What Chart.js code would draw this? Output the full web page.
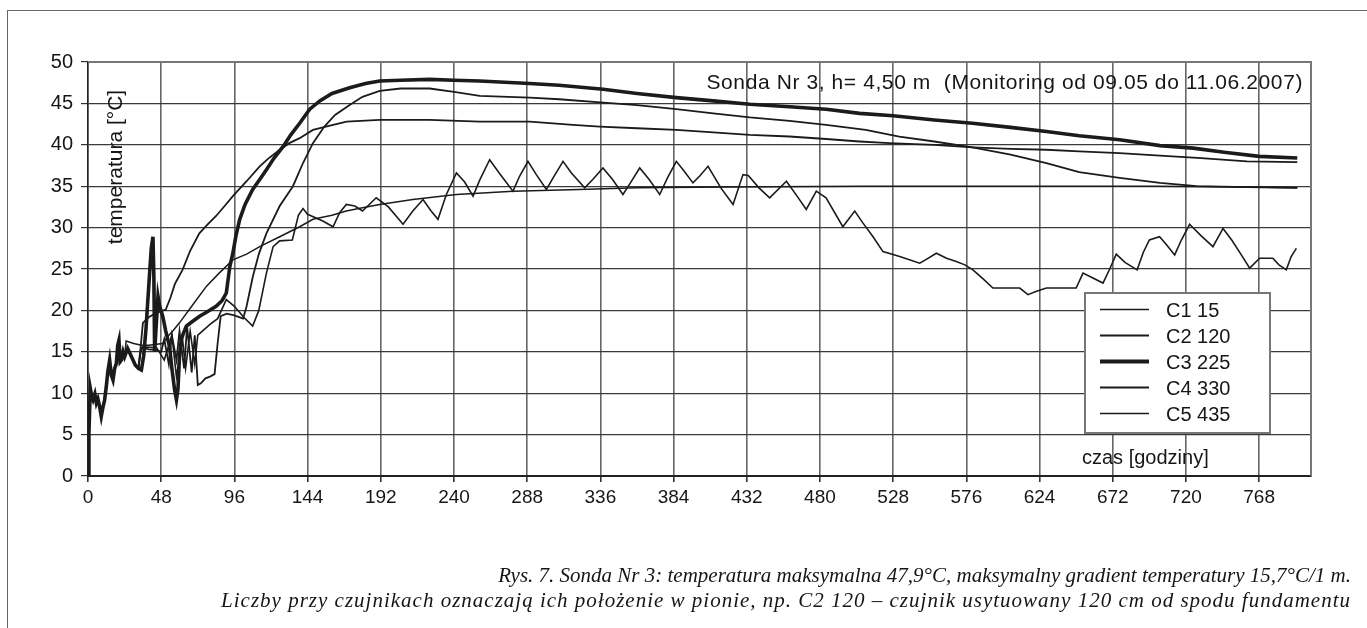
<!DOCTYPE html>
<html lang="pl">
<head>
<meta charset="utf-8">
<title>Sonda Nr 3</title>
<script src="https://cdn.jsdelivr.net/npm/chart.js@4.4.1/dist/chart.umd.min.js"></script>
<style>
  html, body { margin: 0; padding: 0; background: #fff; }
  #wrap { position: relative; width: 1367px; height: 628px; overflow: hidden; }
  #frame { position: absolute; left: 7px; top: 10px; width: 1380px; height: 640px; border-top: 1.5px solid #666; border-left: 1.5px solid #666; }
  #chart { position: absolute; left: 0; top: 0; }
  .caption { position: absolute; right: 16px; top: 563px; text-align: right; color: #151515;
             font: italic 21px/25px "Liberation Serif", "DejaVu Serif", serif; white-space: nowrap; }
  .caption .wide { letter-spacing: 1px; }
</style>
</head>
<body>
<div id="wrap">
  <div id="frame"></div>
  <canvas id="chart" width="1367" height="628"></canvas>
  <div class="caption">
    <div>Rys. 7. Sonda Nr 3: temperatura maksymalna 47,9°C, maksymalny gradient temperatury 15,7°C/1 m.</div>
    <div class="wide">Liczby przy czujnikach oznaczają ich położenie w pionie, np. C2 120 – czujnik usytuowany 120 cm od spodu fundamentu</div>
  </div>
</div>
<script>
// --- DATA ---
const xTicks = [0, 48, 96, 144, 192, 240, 288, 336, 384, 432, 480, 528, 576, 624, 672, 720, 768];
const yTicks = [0, 5, 10, 15, 20, 25, 30, 35, 40, 45, 50];
const seriesNames = ['C1 15', 'C2 120', 'C3 225', 'C4 330', 'C5 435'];
const titleText = 'Sonda Nr 3, h= 4,50 m  (Monitoring od 09.05 do 11.06.2007)';

// first day, all sensors read the same
const earlyHours = [0, 0.6, 1.5, 2.5, 3.3, 4.5, 5.5, 6.5, 7.6, 8.7, 9.8, 10.9, 12, 13, 14.2, 15.3, 16.4, 17.5, 18.6, 19.5, 20.3, 21.1, 21.9, 23, 24];
const earlyTemps = [0, 5.2, 10.6, 9.6, 9.2, 9.9, 8.8, 9.3, 8.4, 7.2, 8.3, 9.2, 10.8, 12.6, 14.0, 12.2, 11.6, 13.0, 13.6, 15.8, 16.4, 13.8, 14.0, 15.0, 14.4];

const c1Hours = [25, 30, 35, 40, 45, 49, 52, 56, 60, 68, 77.6, 86, 95, 104, 112.6, 125.7, 138.8, 147.5, 160, 169.4, 180, 191.3, 213, 241.6, 278.7, 322, 360, 420, 506, 600, 700, 760, 793];
const c1Temps = [16.3, 16.0, 15.8, 15.8, 15.9, 16.0, 16.8, 17.6, 18.5, 20.5, 22.9, 24.5, 26.1, 26.8, 27.7, 28.9, 30.1, 31.0, 31.5, 32.0, 32.4, 32.8, 33.4, 34.0, 34.4, 34.6, 34.8, 34.9, 35.0, 35.0, 35.0, 34.9, 34.8];

const c2Hours = [26, 28, 29.5, 31, 33, 35, 40, 45, 48, 50, 53, 55, 58, 60, 63, 65, 68, 70, 72, 74, 77, 80, 83, 85, 87, 91, 96, 101.7, 104, 108, 112, 117, 125.7, 134.4, 141, 147.5, 155, 162, 171.6, 180, 191.3, 205, 224, 240, 256.9, 289.6, 309, 338, 360, 385.8, 410, 434, 460, 484, 510, 532, 555, 580, 605, 628.5, 650, 676.5, 703, 727, 760, 793];
const c2Temps = [15.4, 14.6, 14.0, 13.4, 13.0, 15.5, 15.3, 15.2, 15.0, 16.5, 13.5, 17.0, 14.0, 17.5, 13.0, 18.0, 12.5, 17.0, 11.0, 11.2, 11.8, 12.0, 12.3, 16.0, 19.3, 19.6, 19.4, 19.0, 20.5, 24.0, 26.8, 29.3, 32.6, 35.0, 37.8, 40.2, 42.2, 43.6, 44.8, 45.8, 46.5, 46.8, 46.8, 46.4, 45.9, 45.7, 45.5, 45.1, 44.8, 44.3, 43.8, 43.3, 42.9, 42.4, 41.8, 41.0, 40.4, 39.7, 38.8, 37.8, 36.7, 36.0, 35.4, 35.0, 34.9, 34.8];

const c3Hours = [26, 28, 29.5, 31, 33, 35, 36.5, 38, 40.4, 41.5, 42.6, 43.2, 43.7, 44.5, 45.9, 47, 49, 51, 53.5, 55, 56.8, 58, 59, 60, 61.2, 62.5, 64.5, 68, 73.2, 78, 84, 88, 90.7, 93, 95, 97, 99.5, 103, 108, 112.6, 117, 122, 128, 133, 138.8, 145.4, 152, 160, 171.6, 182, 191.3, 205, 224, 240, 256.9, 289.6, 309, 337.8, 360, 385.8, 410, 434, 460, 484, 506, 528, 555, 580, 605, 628.5, 650, 676.5, 703, 724.7, 745, 768, 793];
const c3Temps = [15.4, 14.6, 14.0, 13.4, 13.0, 12.8, 14.5, 17.7, 24.5, 27.5, 28.9, 24.0, 15.0, 17.5, 21.7, 20.5, 19.3, 17.5, 15.6, 13.0, 10.4, 9.2, 10.5, 14.5, 16.5, 17.2, 18.1, 18.6, 19.3, 19.8, 20.5, 21.2, 22.1, 25.3, 26.9, 29.0, 31.0, 32.8, 34.6, 35.8, 37.0, 38.4, 39.8, 41.2, 42.6, 44.3, 45.3, 46.2, 46.9, 47.4, 47.7, 47.8, 47.9, 47.8, 47.7, 47.4, 47.2, 46.7, 46.2, 45.7, 45.3, 44.9, 44.6, 44.3, 43.8, 43.5, 43.0, 42.6, 42.1, 41.6, 41.1, 40.6, 39.9, 39.6, 39.1, 38.6, 38.4];

const c4Hours = [26, 28, 29.5, 31, 33, 34.5, 36, 40, 45, 51, 54, 57, 62, 67, 73, 78, 84, 90, 95, 104, 112.6, 118, 125.7, 132, 138.8, 147.5, 158, 169.6, 191.3, 224, 257, 289.6, 318, 335.5, 360, 385.8, 410, 434, 460, 484, 506, 525.6, 555, 580, 605, 628.5, 650, 676.5, 703, 730, 760, 793];
const c4Temps = [15.4, 14.6, 14.0, 13.4, 13.0, 15.5, 18.5, 19.2, 19.7, 20.1, 21.5, 23.2, 24.9, 27.2, 29.3, 30.3, 31.4, 32.7, 33.8, 35.6, 37.4, 38.3, 39.4, 40.2, 40.8, 41.8, 42.3, 42.8, 43.0, 43.0, 42.8, 42.8, 42.4, 42.2, 42.0, 41.8, 41.5, 41.2, 41.0, 40.7, 40.4, 40.2, 40.0, 39.7, 39.5, 39.4, 39.2, 39.0, 38.7, 38.4, 38.0, 37.9];

const c5Hours = [26, 28, 29.5, 31, 33, 34.5, 36, 45, 50, 55, 58, 62, 64, 67, 70, 72, 75, 80, 85, 90.7, 96, 102, 108, 112, 117, 121.4, 125.7, 134, 138, 141, 144, 154, 160.7, 165, 169.4, 175, 180, 189, 197, 206.6, 213, 219.7, 225, 229.5, 235, 241.6, 247, 252.5, 257, 263.4, 270, 278.7, 283, 288.5, 294, 300.6, 305, 311.5, 317, 325.7, 331, 337.7, 344, 350.8, 356, 361.8, 368, 374.9, 380, 385.8, 391, 396.7, 401, 406.6, 415, 423, 429.5, 433, 440, 447, 458, 465, 471, 477.6, 484, 495, 502.8, 508, 514.8, 521.3, 532.3, 545.4, 550, 556.3, 563, 569.4, 575, 580.3, 587, 593.4, 611, 616.4, 622, 628.5, 648, 652.5, 658, 665.6, 670, 674.3, 680, 688, 692, 696, 702.7, 707, 712.6, 717, 722.4, 730, 737.7, 744.3, 750, 756, 761.8, 768.3, 777, 781, 785.8, 789, 792.4];
const c5Temps = [15.4, 14.6, 14.0, 13.4, 13.0, 15.0, 15.6, 15.5, 14.0, 17.0, 12.0, 16.5, 13.0, 17.5, 13.5, 17.0, 17.5, 18.3, 19.0, 21.3, 20.5, 19.2, 18.1, 20.0, 24.5, 27.7, 28.4, 28.5, 31.5, 32.3, 31.6, 30.8, 30.1, 31.8, 32.8, 32.6, 32.0, 33.6, 32.5, 30.4, 32.0, 33.4, 32.0, 31.0, 34.0, 36.6, 35.5, 33.8, 35.8, 38.2, 36.5, 34.4, 36.2, 38.0, 36.4, 34.6, 36.0, 38.0, 36.6, 34.8, 35.8, 37.2, 35.8, 34.0, 35.5, 37.2, 35.8, 34.0, 36.0, 38.0, 36.8, 35.4, 36.2, 37.4, 34.8, 32.8, 36.4, 36.3, 34.8, 33.6, 35.6, 33.8, 32.2, 34.4, 33.6, 30.1, 32.0, 30.6, 28.9, 27.1, 26.5, 25.7, 26.2, 26.9, 26.3, 25.9, 25.5, 24.9, 23.8, 22.7, 22.7, 21.9, 22.3, 22.7, 22.7, 24.5, 24.0, 23.3, 25.0, 26.8, 25.8, 24.9, 27.0, 28.5, 28.9, 28.0, 26.7, 28.5, 30.4, 29.0, 27.7, 29.9, 28.5, 26.8, 25.1, 26.3, 26.3, 25.5, 24.9, 26.5, 27.5];

// --- HELPERS ---
function toPoints(hours, temps) {
    const hh = earlyHours.concat(hours);
    const tt = earlyTemps.concat(temps);
    return hh.map((h, i) => ({ x: h, y: tt[i] }));
}

const FONT = '"Liberation Sans", Arial, sans-serif';
const INK = '#161616';

// title, axis names and the boxed legend sit inside the plot area
const overlay = {
    id: 'overlay',
    beforeDatasetsDraw(chart) {
        const { ctx, chartArea: a } = chart;
        ctx.save();
        ctx.strokeStyle = '#777';
        ctx.lineWidth = 2;
        ctx.beginPath();
        ctx.moveTo(a.left, a.top);
        ctx.lineTo(a.right, a.top);
        ctx.lineTo(a.right, a.bottom);
        ctx.stroke();
        ctx.restore();
    },
    afterDraw(chart) {
        const { ctx, chartArea: a } = chart;
        ctx.save();
        ctx.fillStyle = INK;
        ctx.font = '21px ' + FONT;
        ctx.textBaseline = 'alphabetic';

        ctx.textAlign = 'right';
        ctx.letterSpacing = '0.6px';
        ctx.fillText(titleText, a.right - 8, a.top + 27);
        ctx.letterSpacing = '0px';

        ctx.save();
        ctx.translate(a.left + 33.5, a.top + 105);
        ctx.rotate(-Math.PI / 2);
        ctx.textAlign = 'center';
        ctx.fillText('temperatura [°C]', 0, 0);
        ctx.restore();

        ctx.textAlign = 'left';
        ctx.font = '20px ' + FONT;
        ctx.fillText('czas [godziny]', a.right - 229, a.bottom - 12);

        // legend box
        const bx = a.right - 226, by = a.top + 231, bw = 185, bh = 140;
        ctx.fillStyle = '#fff';
        ctx.fillRect(bx, by, bw, bh);
        ctx.strokeStyle = '#777';
        ctx.lineWidth = 2;
        ctx.strokeRect(bx, by, bw, bh);
        ctx.font = '20px ' + FONT;
        chart.data.datasets.forEach((ds, i) => {
            const yy = by + 16.5 + i * 26;
            ctx.strokeStyle = ds.borderColor;
            ctx.lineWidth = ds.legendWidth;
            ctx.beginPath();
            ctx.moveTo(bx + 15, yy);
            ctx.lineTo(bx + 64, yy);
            ctx.stroke();
            ctx.fillStyle = INK;
            ctx.fillText(ds.label, bx + 81, yy + 7.5);
        });
        ctx.restore();
    }
};

function renderChart() {
    const ctx = document.getElementById('chart').getContext('2d');
    const series = [
        [c1Hours, c1Temps, 1.5, 1.3],
        [c2Hours, c2Temps, 1.8, 2],
        [c3Hours, c3Temps, 3.6, 4],
        [c4Hours, c4Temps, 1.8, 2],
        [c5Hours, c5Temps, 1.6, 1.3]
    ];
    new Chart(ctx, {
        type: 'line',
        data: {
            datasets: series.map((s, i) => ({
                label: seriesNames[i],
                data: toPoints(s[0], s[1]),
                borderColor: '#1b1b1b',
                borderWidth: s[2],
                legendWidth: s[3],
                pointRadius: 0,
                tension: 0,
                fill: false
            }))
        },
        options: {
            responsive: false,
            animation: false,
            devicePixelRatio: 1,
            layout: { padding: { left: 0, top: 62, right: 56, bottom: 112 } },
            plugins: { legend: { display: false }, tooltip: { enabled: false } },
            scales: {
                x: {
                    type: 'linear', min: 0, max: 802,
                    afterBuildTicks: s => { s.ticks = xTicks.map(v => ({ value: v })); },
                    afterFit: s => { s.height = 40; },
                    grid: { color: '#666', lineWidth: 1.6, tickLength: 6, tickColor: '#333' },
                    border: { color: '#222', width: 2 },
                    ticks: { color: INK, font: { family: FONT, size: 19 }, padding: 4, maxRotation: 0, autoSkip: false }
                },
                y: {
                    min: 0, max: 50,
                    afterBuildTicks: s => { s.ticks = yTicks.map(v => ({ value: v })); },
                    afterFit: s => { s.width = 88; },
                    grid: { color: '#3a3a3a', lineWidth: 1.2, tickLength: 7, tickColor: '#333' },
                    border: { color: '#222', width: 1.5 },
                    ticks: { color: INK, font: { family: FONT, size: 20 }, padding: 8 }
                }
            }
        },
        plugins: [overlay]
    });
}

window.onload = renderChart;
</script>
</body>
</html>
